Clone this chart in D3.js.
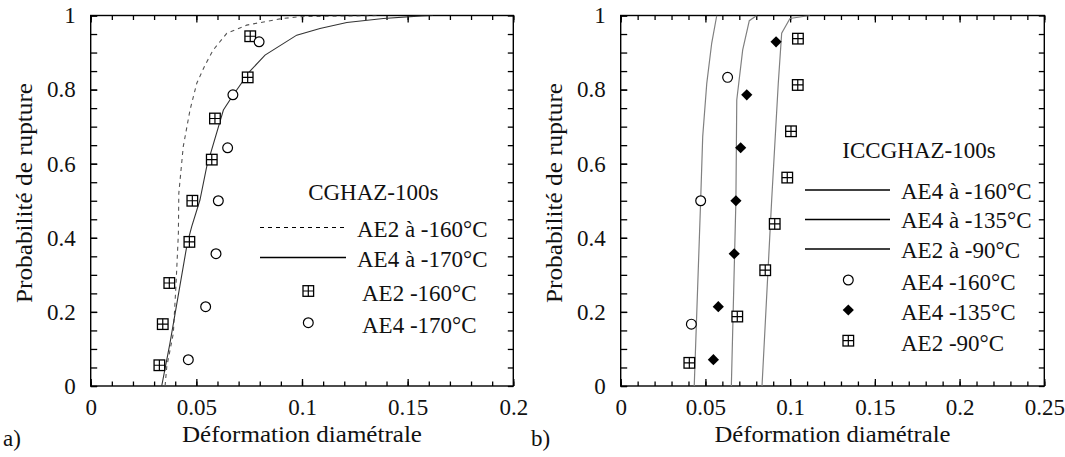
<!DOCTYPE html>
<html><head><meta charset="utf-8">
<script src="https://cdn.jsdelivr.net/npm/d3@7"></script>
<style>
body{margin:0;background:#fff;}
#c, #c text { font-family: "Liberation Serif", "Times New Roman", Tinos, serif; }
</style></head>
<body><svg id="c" width="1065" height="457" font-family="Liberation Serif"></svg>
<script>
// ---------- DATA ----------
// Panel a) CGHAZ-100s
const aSqX = [0.0325,0.0341,0.0372,0.0467,0.0481,0.0573,0.0588,0.0743,0.0755];
const aSqP = [0.056,0.167,0.278,0.389,0.5,0.611,0.722,0.833,0.944];
const aCiX = [0.0462,0.0544,0.0593,0.0604,0.0648,0.0673,0.0797];
const aCiP = [0.071,0.214,0.357,0.5,0.643,0.786,0.929];
const aSolidX = [0.0336,0.0375,0.0457,0.0478,0.0517,0.0549,0.0628,0.0675,0.0754,0.0825,0.0975,0.1085,0.1212,0.1385,0.1566,0.162];
const aSolidP = [0,0.115,0.385,0.43,0.502,0.592,0.745,0.786,0.85,0.893,0.947,0.965,0.981,0.992,0.999,1];
const aDashX = [0.0352,0.036,0.0391,0.0404,0.0415,0.0417,0.0438,0.047,0.0502,0.0541,0.058,0.0644,0.0738,0.0896,0.099,0.137];
const aDashP = [0,0.052,0.142,0.277,0.412,0.52,0.646,0.745,0.817,0.866,0.907,0.952,0.974,0.991,0.997,1];
// Panel b) ICCGHAZ-100s
const bCiX = [0.0417,0.0472,0.0631];
const bCiP = [0.167,0.5,0.833];
const bDiX = [0.0547,0.0576,0.067,0.068,0.0708,0.0744,0.0917];
const bDiP = [0.071,0.214,0.357,0.5,0.643,0.786,0.929];
const bSqX = [0.0405,0.0688,0.0853,0.0909,0.0983,0.1005,0.1045,0.1046];
const bSqP = [0.0625,0.1875,0.3125,0.4375,0.5625,0.6875,0.8125,0.9375];
const bL1X = [0.0434,0.0472,0.0484,0.0508,0.0537,0.0567];
const bL1P = [0,0.502,0.673,0.817,0.925,1];
const bL2X = [0.0653,0.068,0.0685,0.072,0.0759,0.0803];
const bL2P = [0,0.502,0.772,0.907,0.986,1];
const bL3X = [0.0834,0.0891,0.093,0.095,0.0999,0.1117];
const bL3P = [0,0.502,0.817,0.952,0.992,1];
// Tick labels / text
const aXTicks = [0,0.05,0.1,0.15,0.2];
const bXTicks = [0,0.05,0.1,0.15,0.2,0.25];
const yTicks = [0,0.2,0.4,0.6,0.8,1];
const aTitle = "CGHAZ-100s";
const aLegend = ["AE2 à -160°C","AE4 à -170°C","AE2 -160°C","AE4 -170°C"];
const bTitle = "ICCGHAZ-100s";
const bLegend = ["AE4 à -160°C","AE4 à -135°C","AE2 à -90°C","AE4 -160°C","AE4 -135°C","AE2 -90°C"];
const xTitle = "Déformation diamétrale";
const yTitle = "Probabilité de rupture";

// ---------- DRAW ----------
const svg = d3.select("#c");
const FS = "23px";
const FONT = "Liberation Serif";
const y = d3.scaleLinear().domain([0,1]).range([386,15.5]);
const xa = d3.scaleLinear().domain([0,0.2]).range([90.7,513.3]);
const xb = d3.scaleLinear().domain([0,0.25]).range([620.7,1044.3]);
const fmt = d => d===0?"0":String(d);

function frame(x, xt, xmax, id){
  const g = svg.append("g");
  const [x0,x1] = x.range();
  const minor = d3.range(0, Math.round(xmax/0.01)+1).map(i=>+(i*0.01).toFixed(2));
  const ymin = d3.range(0,21).map(i=>+(i*0.05).toFixed(2));
  g.append("g").attr("transform",`translate(0,${y(0)})`).call(d3.axisBottom(x).tickValues(minor).tickSize(-4.5).tickFormat(""));
  g.append("g").attr("transform",`translate(0,${y(0)})`).call(d3.axisBottom(x).tickValues(xt).tickSize(-7).tickPadding(12.5).tickFormat(fmt));
  g.append("g").attr("transform",`translate(0,${y(1)})`).call(d3.axisTop(x).tickValues(minor).tickSize(-4.5).tickFormat(""));
  g.append("g").attr("transform",`translate(0,${y(1)})`).call(d3.axisTop(x).tickValues(xt).tickSize(-7).tickFormat(""));
  g.append("g").attr("transform",`translate(${x0},0)`).call(d3.axisLeft(y).tickValues(ymin).tickSize(-6.5).tickFormat(""));
  g.append("g").attr("transform",`translate(${x0},0)`).call(d3.axisLeft(y).tickValues(yTicks).tickSize(-6.5).tickPadding(15).tickFormat(fmt));
  g.append("g").attr("transform",`translate(${x1},0)`).call(d3.axisRight(y).tickValues(ymin).tickSize(-5.5).tickFormat(""));
  g.selectAll("g").attr("font-family",FONT).attr("font-size",23);
  g.selectAll(".domain").remove();
  g.selectAll(".tick line").attr("stroke","#000").attr("stroke-width",1.3);
  g.selectAll(".tick text").style("font-size",FS).style("font-family",FONT).attr("font-family",FONT).attr("fill","#111");
  g.append("rect").attr("x",x0).attr("y",y(1)).attr("width",x1-x0).attr("height",y(0)-y(1))
    .attr("fill","none").attr("stroke","#000").attr("stroke-width",1.4);
  svg.append("clipPath").attr("id",id).append("rect").attr("x",x0).attr("y",y(1)).attr("width",x1-x0).attr("height",y(0)-y(1));
}
frame(xa, aXTicks, 0.2, "ca");
frame(xb, bXTicks, 0.25, "cb");

function line(x, xs, ps, clip, color, w, dash){
  const pts = xs.map((v,i)=>[x(v), y(ps[i])]);
  svg.append("path").attr("d", d3.line()(pts)).attr("fill","none")
    .attr("stroke",color).attr("stroke-width",w).attr("stroke-dasharray",dash||null)
    .attr("clip-path",`url(#${clip})`);
}
function sq(g,cx,cy){
  const s=5.3;
  g.append("rect").attr("x",cx-s).attr("y",cy-s).attr("width",2*s).attr("height",2*s).attr("fill","#fff").attr("stroke","#000").attr("stroke-width",1.3);
  g.append("path").attr("d",`M${cx-s},${cy}H${cx+s}M${cx},${cy-s}V${cy+s}`).attr("stroke","#000").attr("stroke-width",1.2);
}
function ci(g,cx,cy){ g.append("circle").attr("cx",cx).attr("cy",cy).attr("r",4.9).attr("fill","#fff").attr("stroke","#000").attr("stroke-width",1.2); }
function di(g,cx,cy){ const s=5.6; g.append("path").attr("d",`M${cx},${cy-s}L${cx+s},${cy}L${cx},${cy+s}L${cx-s},${cy}Z`).attr("fill","#000"); }
function pts(x, xs, ps, f){ const g=svg.append("g"); xs.forEach((v,i)=>f(g,x(v),y(ps[i]))); }

line(xa, aDashX, aDashP, "ca", "#555", 1.1, "4,4");
line(xa, aSolidX, aSolidP, "ca", "#333", 1.1);
pts(xa, aSqX, aSqP, sq);
pts(xa, aCiX, aCiP, ci);
line(xb, bL1X, bL1P, "cb", "#808080", 1.2);
line(xb, bL2X, bL2P, "cb", "#808080", 1.2);
line(xb, bL3X, bL3P, "cb", "#808080", 1.2);
pts(xb, bCiX, bCiP, ci);
pts(xb, bDiX, bDiP, di);
pts(xb, bSqX, bSqP, sq);

function txt(x,yy,s,anchor){
  return svg.append("text").attr("x",x).attr("y",yy).attr("font-family",FONT).attr("font-size",23)
    .style("font-size",FS).style("font-family",FONT)
    .attr("fill","#111").attr("text-anchor",anchor||"start").text(s);
}
txt(302,442,xTitle,"middle").attr("textLength",240).attr("lengthAdjust","spacingAndGlyphs");
txt(832.5,442,xTitle,"middle").attr("textLength",236).attr("lengthAdjust","spacingAndGlyphs");
txt(0,0,yTitle,"middle").attr("transform","translate(32,193) rotate(-90)").attr("textLength",220).attr("lengthAdjust","spacingAndGlyphs");
txt(0,0,yTitle,"middle").attr("transform","translate(562,193) rotate(-90)").attr("textLength",220).attr("lengthAdjust","spacingAndGlyphs");
txt(3,446,"a)");
txt(531,446,"b)");

const la = svg.append("g");
txt(373.3,200,aTitle,"middle");
la.append("line").attr("x1",260).attr("x2",346).attr("y1",227.5).attr("y2",227.5).attr("stroke","#000").attr("stroke-width",1.1).attr("stroke-dasharray","4,4");
la.append("line").attr("x1",260).attr("x2",346).attr("y1",257.5).attr("y2",257.5).attr("stroke","#000").attr("stroke-width",1.3);
txt(357,237,aLegend[0]); txt(357,267,aLegend[1]);
sq(la,308.3,291); ci(la,308.3,322.7);
txt(362,301,aLegend[2]); txt(362,333,aLegend[3]);

const lb = svg.append("g");
txt(919,158,bTitle,"middle");
[190,219.5,249].forEach((yy,i)=>{
  lb.append("line").attr("x1",805).attr("x2",890).attr("y1",yy).attr("y2",yy).attr("stroke","#000").attr("stroke-width",1.3);
  txt(901,yy+8.5,bLegend[i]);
});
ci(lb,848.3,280); di(lb,848.3,310); sq(lb,848.3,340.7);
txt(901,290,bLegend[3]); txt(901,320,bLegend[4]); txt(901,350.5,bLegend[5]);
</script></body></html>
